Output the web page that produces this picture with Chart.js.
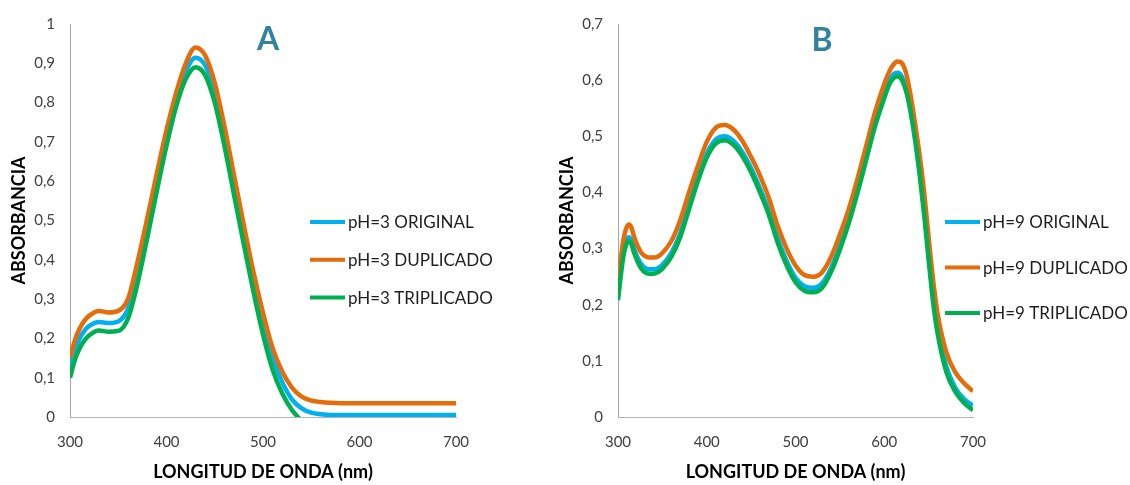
<!DOCTYPE html>
<html>
<head>
<meta charset="utf-8">
<script src="https://cdn.jsdelivr.net/npm/chart.js@4.4.1/dist/chart.umd.min.js"></script>
<style>
  html, body { margin: 0; padding: 0; background: #ffffff; }
  #wrap { position: relative; width: 1130px; height: 485px; overflow: hidden; background: #ffffff; }
  canvas { position: absolute; top: 0; }
  #chartA { left: 0; }
  #chartB { left: 540px; }
</style>
</head>
<body>
<div id="wrap">
  <canvas id="chartA" width="540" height="485"></canvas>
  <canvas id="chartB" width="590" height="485"></canvas>
</div>
<script>
// ---- Spectra at pH 3 (panel A) ----
const wavelengthsA = [300,305,310,315,320,330,340,350,360,370,380,390,400,410,420,430,440,450,460,470,480,490,
                      500,510,520,530,540,550,560,570,580,590,600,610,620,630,640,650,660,670,680,690,700];
const originalA   = [0.125,0.17,0.20,0.22,0.232,0.242,0.239,0.243,0.275,0.37,0.48,0.60,0.71,0.81,0.88,0.914,0.895,0.825,0.715,0.59,0.465,0.345,
                     0.235,0.15,0.088,0.045,0.022,0.011,0.007,0.005,0.005,0.005,0.005,0.005,0.005,0.005,0.005,0.005,0.005,0.005,0.005,0.005,0.005];
const duplicadoA  = [0.15,0.195,0.225,0.245,0.258,0.27,0.266,0.27,0.30,0.395,0.505,0.62,0.73,0.825,0.90,0.94,0.92,0.85,0.74,0.615,0.49,0.37,
                     0.265,0.175,0.115,0.075,0.052,0.042,0.038,0.036,0.035,0.035,0.035,0.035,0.035,0.035,0.035,0.035,0.035,0.035,0.035,0.035,0.035];
const triplicadoA = [0.10,0.145,0.175,0.195,0.208,0.22,0.217,0.219,0.25,0.34,0.455,0.575,0.69,0.79,0.86,0.89,0.87,0.80,0.69,0.565,0.44,0.32,
                     0.21,0.12,0.06,0.018,-0.01,null,null,null,null,null,null,null,null,null,null,null,null,null,null,null,null];

// ---- Spectra at pH 9 (panel B) ----
const wavelengthsB = [300,303,306,309,312,315,318,322,326,330,335,340,345,350,
                      360,370,380,390,400,410,420,430,440,450,460,470,480,490,500,510,520,530,540,550,560,570,580,590,600,
                      605,610,615,620,625,630,635,640,645,650,655,
                      660,670,680,690,700];
const originalB   = [0.215,0.258,0.293,0.313,0.32,0.315,0.30,0.284,0.273,0.266,0.263,0.263,0.265,0.271,
                     0.292,0.327,0.377,0.427,0.469,0.494,0.50,0.492,0.472,0.443,0.407,0.367,0.318,0.278,0.248,0.233,0.23,0.238,0.265,0.305,0.352,0.407,0.467,0.527,0.575,
                     0.597,0.61,0.613,0.606,0.585,0.547,0.497,0.437,0.368,0.29,0.215,
                     0.16,0.09,0.052,0.032,0.02];
const duplicadoB  = [0.237,0.28,0.315,0.335,0.343,0.338,0.322,0.305,0.293,0.287,0.284,0.284,0.286,0.292,
                     0.313,0.35,0.40,0.447,0.49,0.515,0.52,0.512,0.492,0.463,0.43,0.39,0.34,0.30,0.27,0.253,0.25,0.258,0.285,0.325,0.37,0.425,0.485,0.545,0.593,
                     0.613,0.627,0.633,0.63,0.61,0.57,0.52,0.465,0.40,0.32,0.245,
                     0.185,0.115,0.08,0.06,0.046];
const triplicadoB = [0.208,0.25,0.285,0.306,0.314,0.308,0.293,0.277,0.265,0.258,0.255,0.255,0.258,0.264,
                     0.285,0.32,0.37,0.42,0.462,0.487,0.493,0.485,0.465,0.436,0.40,0.36,0.31,0.27,0.24,0.225,0.222,0.23,0.258,0.298,0.345,0.40,0.46,0.52,0.568,
                     0.59,0.603,0.607,0.60,0.578,0.54,0.49,0.43,0.36,0.28,0.205,
                     0.15,0.08,0.045,0.025,0.012];

// ---- Axis tick labels ----
const xTickLabels  = ['300','400','500','600','700'];
const yTickLabelsA = ['0','0,1','0,2','0,3','0,4','0,5','0,6','0,7','0,8','0,9','1'];
const yTickLabelsB = ['0','0,1','0,2','0,3','0,4','0,5','0,6','0,7'];

const seriesNamesA = ['pH=3 ORIGINAL','pH=3 DUPLICADO','pH=3 TRIPLICADO'];
const seriesNamesB = ['pH=9 ORIGINAL','pH=9 DUPLICADO','pH=9 TRIPLICADO'];

const COLORS = ['#00b0f0', '#e46c0a', '#00b050'];
const FONT = "Lato, 'Open Sans', sans-serif";

function toPoints(xs, ys) {
  return xs.map((x, i) => ({ x: x, y: ys[i] }));
}

// Legend drawn to the right of the plot area
const sideLegend = {
  id: 'sideLegend',
  afterDraw(chart, args, opts) {
    const ctx = chart.ctx;
    ctx.save();
    ctx.font = opts.font;
    ctx.textBaseline = 'middle';
    ctx.textAlign = 'left';
    chart.data.datasets.forEach((ds, i) => {
      const y = opts.y + i * opts.gap;
      ctx.strokeStyle = ds.borderColor;
      ctx.lineWidth = 4;
      ctx.beginPath();
      ctx.moveTo(opts.x, y);
      ctx.lineTo(opts.x + opts.len, y);
      ctx.stroke();
      ctx.fillStyle = '#1e1e1e';
      ctx.fillText(ds.label, opts.x + opts.len + 3, y + 1);
    });
    ctx.restore();
  }
};

// Panel letter
const panelLetter = {
  id: 'panelLetter',
  afterDraw(chart, args, opts) {
    const ctx = chart.ctx;
    ctx.save();
    ctx.font = opts.font;
    ctx.fillStyle = opts.color;
    ctx.textAlign = 'center';
    ctx.textBaseline = 'middle';
    ctx.fillText(opts.text, opts.x, opts.y);
    ctx.restore();
  }
};

function buildChart(canvasId, cfg) {
  const datasets = cfg.series.map((vals, i) => ({
    label: cfg.names[i],
    data: toPoints(cfg.wavelengths, vals),
    borderColor: COLORS[i],
    backgroundColor: COLORS[i],
    borderWidth: 4.5,
    pointRadius: 0,
    fill: false,
    spanGaps: false,
    cubicInterpolationMode: 'monotone',
    order: 2 - i
  }));

  return new Chart(document.getElementById(canvasId), {
    type: 'line',
    data: { datasets },
    options: {
      responsive: false,
      animation: false,
      layout: { padding: { left: 0, right: cfg.padRight, top: cfg.padTop, bottom: 0 } },
      plugins: {
        legend: { display: false },
        tooltip: { enabled: false },
        sideLegend: cfg.legend,
        panelLetter: cfg.letter
      },
      scales: {
        x: {
          type: 'linear',
          min: 300, max: 700,
          grid: { display: false, drawTicks: false },
          border: { display: true, color: '#b4b4b4', width: 1 },
          ticks: {
            stepSize: 100,
            padding: 16,
            color: '#404040',
            font: { family: FONT, size: 15 },
            callback: (v) => xTickLabels[(v - 300) / 100]
          },
          title: {
            display: true,
            text: 'LONGITUD DE ONDA (nm)',
            color: '#000000',
            font: { family: FONT, size: 18, weight: 'bold' },
            padding: { top: 0, bottom: 2 }
          },
          afterFit: (s) => { s.height = 68; }
        },
        y: {
          min: 0, max: cfg.yMax,
          grid: { display: false, drawTicks: false },
          border: { display: true, color: '#a6a6a6', width: 1 },
          ticks: {
            stepSize: 0.1,
            padding: 15,
            color: '#404040',
            font: { family: FONT, size: 15 },
            callback: (v) => cfg.yLabels[Math.round(v * 10)]
          },
          title: {
            display: true,
            text: 'ABSORBANCIA',
            color: '#000000',
            font: { family: FONT, size: 18, weight: 'bold' },
            padding: { top: cfg.yTitlePad, bottom: 0 }
          },
          afterFit: (s) => { s.width = cfg.yWidth; }
        }
      }
    },
    plugins: [sideLegend, panelLetter]
  });
}

buildChart('chartA', {
  wavelengths: wavelengthsA,
  series: [originalA, duplicadoA, triplicadoA],
  names: seriesNamesA,
  yMax: 1,
  yLabels: yTickLabelsA,
  yWidth: 70,
  yTitlePad: 8,
  padRight: 84,
  padTop: 22,
  legend: { x: 310, y: 222, gap: 37.7, len: 35, font: "17px " + FONT },
  letter: { text: 'A', x: 268, y: 40, color: '#31849b', font: "bold 32px " + FONT }
});

buildChart('chartB', {
  wavelengths: wavelengthsB,
  series: [originalB, duplicadoB, triplicadoB],
  names: seriesNamesB,
  yMax: 0.7,
  yLabels: yTickLabelsB,
  yWidth: 78,
  yTitlePad: 16,
  padRight: 157,
  padTop: 23,
  legend: { x: 405, y: 222, gap: 45.5, len: 35, font: "17px " + FONT },
  letter: { text: 'B', x: 282, y: 41, color: '#31849b', font: "bold 32px " + FONT }
});
</script>
</body>
</html>
